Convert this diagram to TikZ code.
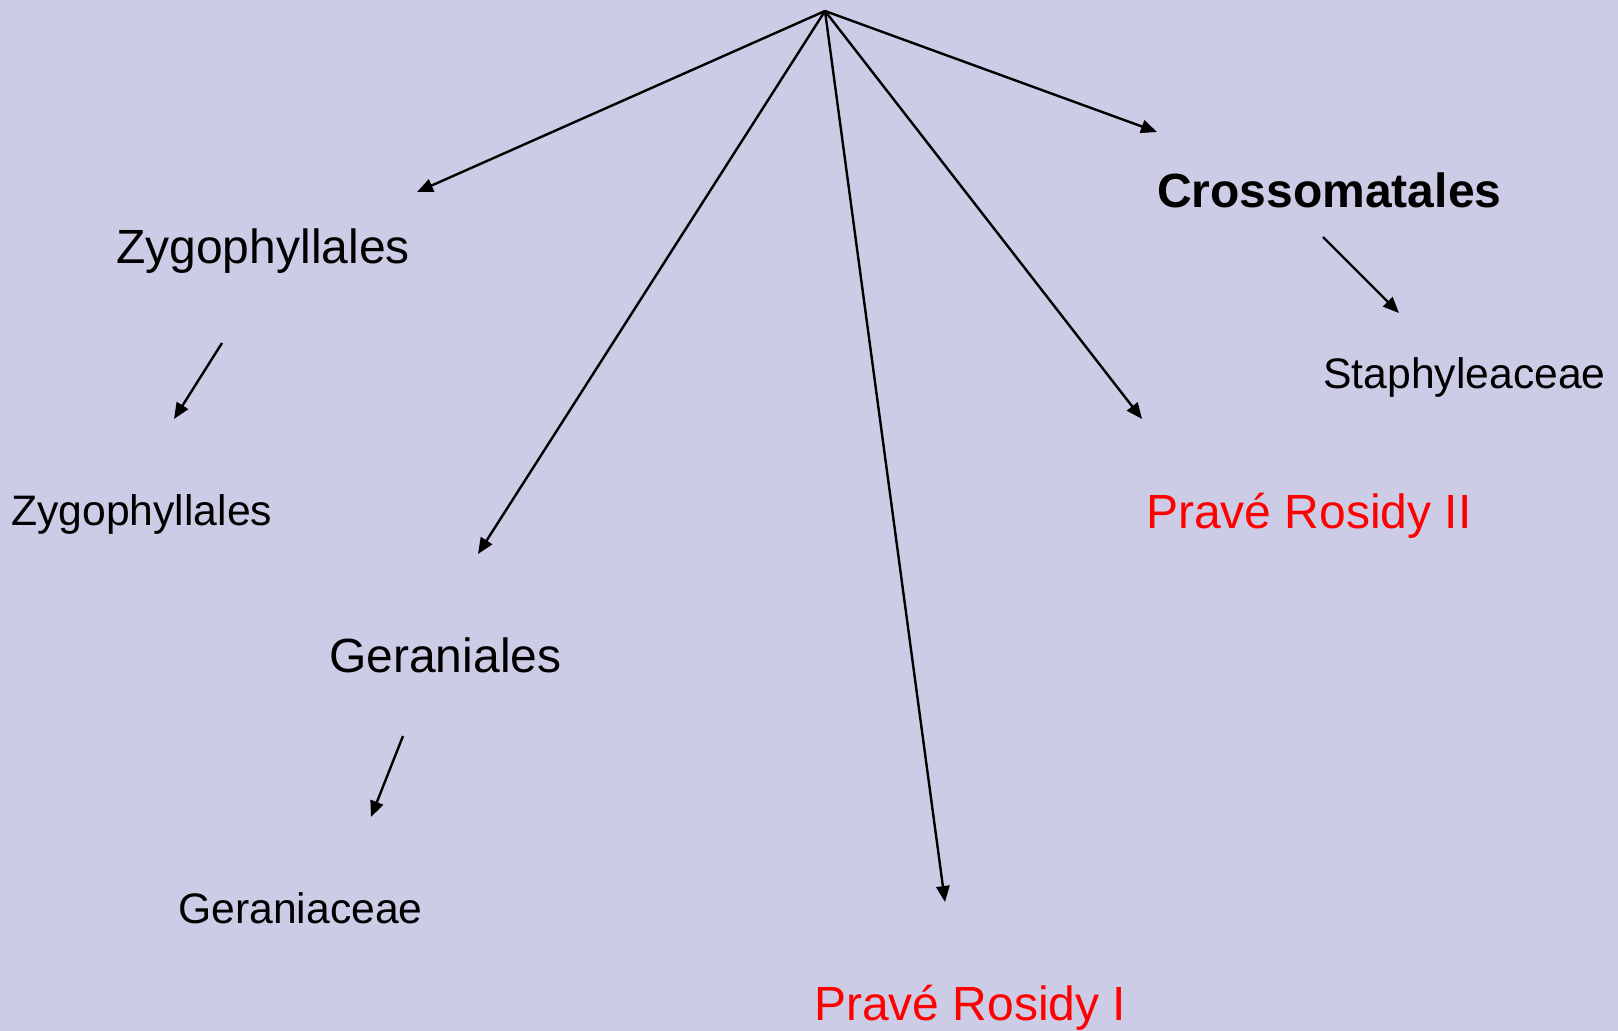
\documentclass[tikz,border=0pt]{standalone}
\usepackage{fontspec}
\setmainfont{Liberation Sans}
\usetikzlibrary{arrows.meta}
\definecolor{lavender}{RGB}{204,204,230}
\tikzset{
	big/.style={anchor=base west, inner sep=0pt, font=\fontsize{36}{40}\selectfont},
	small/.style={anchor=base west, inner sep=0pt, font=\fontsize{32}{36}\selectfont},
	arr/.style={-{Triangle[length=12pt,width=10pt]}, line width=1.8pt}
}
\begin{document}
\begin{tikzpicture}[x=0.75pt,y=-0.75pt]
	\fill [lavender] (0,0) rectangle (1618,1031) ;
	\useasboundingbox (0,0) rectangle (1618,1031) ;

	\coordinate (root) at (825,11) ;
	\coordinate (zyg1) at (417,192) ;
	\coordinate (ger1) at (478,554) ;
	\coordinate (pr1) at (945,902) ;
	\coordinate (pr2) at (1142,419) ;
	\coordinate (cro1) at (1157,132) ;

	\draw [arr] (root) -- (zyg1) ;
	\draw [arr] (root) -- (ger1) ;
	\draw [arr] (root) -- (pr1) ;
	\draw [arr] (root) -- (pr2) ;
	\draw [arr] (root) -- (cro1) ;

	\coordinate (zyg2) at (222,343) ;
	\coordinate (zyg3) at (174,419) ;
	\coordinate (ger2) at (403,736) ;
	\coordinate (ger3) at (371,817) ;
	\coordinate (cro2) at (1323,237) ;
	\coordinate (cro3) at (1399,313) ;
	\draw [arr] (zyg2) -- (zyg3) ;
	\draw [arr] (ger2) -- (ger3) ;
	\draw [arr] (cro2) -- (cro3) ;

	\node [big] (zygord) at (116,263) {Zygophyllales} ;
	\node [small] (zygfam) at (11,525) {Zygophyllales} ;
	\node [big] (gerord) at (329,672) {Geraniales} ;
	\node [small] (gerfam) at (178,923) {Geraniaceae} ;
	\node [big, text=red] (rosid1) at (814,1020) {Pravé Rosidy I} ;
	\node [big, text=red] (rosid2) at (1146,528) {Pravé Rosidy II} ;
	\node [big, font=\fontsize{36}{40}\selectfont\bfseries] (croord) at (1157,207) {Crossomatales} ;
	\node [small] (stafam) at (1323,388) {Staphyleaceae} ;
\end{tikzpicture}
\end{document}
